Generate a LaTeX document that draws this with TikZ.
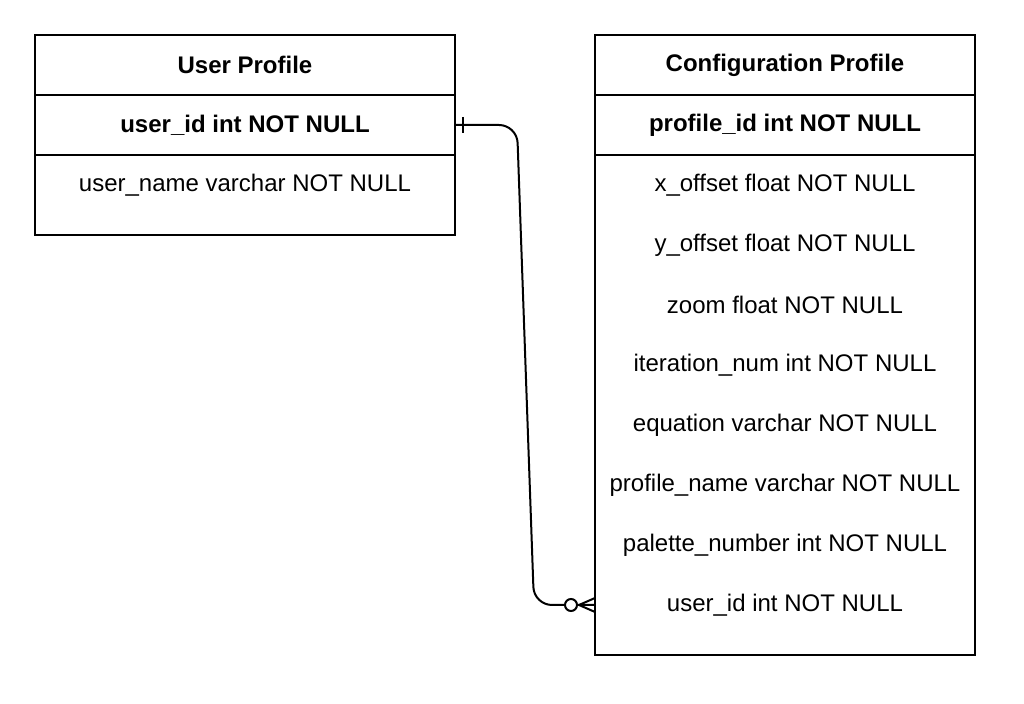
\documentclass[tikz,border=0pt]{standalone}
\usepackage{fontspec}
\setmainfont{Liberation Sans}
\usetikzlibrary{positioning}
\tikzset{
  table/.style={rectangle, draw, line width=1pt, outer sep=0pt, inner sep=0pt, minimum height=30pt, font=\fontsize{12}{14}\selectfont},
  tablehead/.style={table, font=\fontsize{12}{14}\selectfont\bfseries},
  field/.style={rectangle, outer sep=0pt, inner sep=0pt, minimum height=30pt, font=\fontsize{12}{14}\selectfont},
}
\begin{document}
\begin{tikzpicture}[x=1pt, y=-1pt]
  \useasboundingbox (0,0) rectangle (512,352);
  % User Profile
  \node (user-head) [tablehead, minimum width=210pt] at (122.5, 32.5) {User Profile};
  \node (user-key) [tablehead, minimum width=210pt, below=0pt of user-head] {user\_id int NOT NULL};
  \node (user-f1) [field, minimum width=210pt, below=0pt of user-key] {user\_name varchar NOT NULL};
  \draw[line width=1pt] (user-key.south west) rectangle ([yshift=-10pt]user-f1.south east);
  % Configuration Profile
  \node (conf-head) [tablehead, minimum width=190pt] at (392.5, 32.5) {Configuration Profile};
  \node (conf-key) [tablehead, minimum width=190pt, below=0pt of conf-head] {profile\_id int NOT NULL};
  \node (conf-f1) [field, minimum width=190pt, below=0pt of conf-key] {x\_offset float NOT NULL};
  \node (conf-f2) [field, minimum width=190pt, below=0pt of conf-f1] {y\_offset float NOT NULL};
  \node (conf-f3) [field, minimum width=190pt, below=0pt of conf-f2] {zoom float NOT NULL};
  \node (conf-f4) [field, minimum width=190pt, below=0pt of conf-f3] {iteration\_num int NOT NULL};
  \node (conf-f5) [field, minimum width=190pt, below=0pt of conf-f4] {equation varchar NOT NULL};
  \node (conf-f6) [field, minimum width=190pt, below=0pt of conf-f5] {profile\_name varchar NOT NULL};
  \node (conf-f7) [field, minimum width=190pt, below=0pt of conf-f6] {palette\_number int NOT NULL};
  \node (conf-f8) [field, minimum width=190pt, below=0pt of conf-f7] {user\_id int NOT NULL};
  \draw[line width=1pt] (conf-key.south west) rectangle ([yshift=-10pt]conf-f8.south east);
  % Arrow
  \draw[line width=1pt, rounded corners=9pt] (user-key.east) -- (258.5, 62.5) -- (267, 302.5) -- (conf-f8.west);
  \draw[line width=1pt] ([xshift=4pt, yshift=4pt]user-key.east) -- ([xshift=4pt, yshift=-4pt]user-key.east);
  \draw[line width=1pt, fill=white] ([xshift=-12pt]conf-f8.west) circle (3pt);
  \draw[line width=1pt] ([xshift=-8pt]conf-f8.west) -- ([yshift=3.5pt]conf-f8.west);
  \draw[line width=1pt] ([xshift=-8pt]conf-f8.west) -- ([yshift=-3.5pt]conf-f8.west);
\end{tikzpicture}
\end{document}
